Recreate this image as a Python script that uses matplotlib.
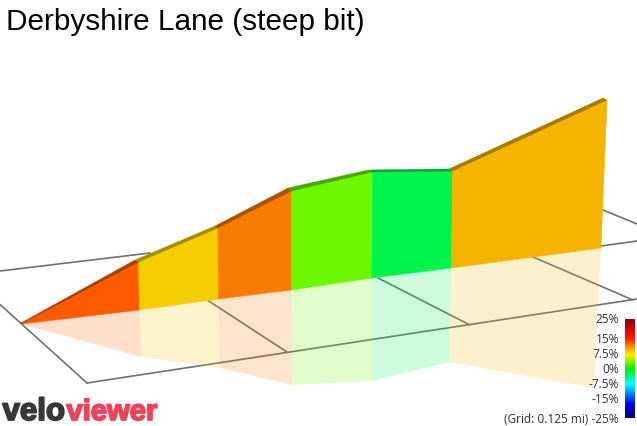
import matplotlib
matplotlib.use("Agg")
import matplotlib.pyplot as plt
import matplotlib.patheffects as pe
from matplotlib.colors import LinearSegmentedColormap, to_rgb
import numpy as np

title = "Derbyshire Lane (steep bit)"
base_x = [21, 139.5, 218.5, 291.5, 372, 451.5, 601]
base_y = [325, 311, 300, 291, 279, 269, 249]
top_x = [21, 138.5, 218, 291.5, 372.5, 452.5, 607]
top_y = [325, 263, 229, 192, 173, 172, 101]
ridge_x = [21, 135, 215, 288, 368, 449, 603]
ridge_y = [324, 261, 227, 189, 171, 170, 99]
mirror_x = [21, 141, 220, 292.5, 371, 449, 594]
mirror_y = [325, 358, 369, 386, 382, 363, 389]
segment_colors = ["#FF5A00", "#F5CC00", "#F87B00", "#6CF700", "#00F44C", "#F5B400"]

grid_x0 = [0, 0, 87, 208, 378, 533, 601, 603]
grid_y0 = [272, 305.5, 384, 301.5, 279, 258, 247, 211]
grid_x1 = [150, 87, 637, 287, 470, 633, 637, 637]
grid_y1 = [254, 384, 300, 353, 326, 301, 242, 225]

scale_labels = ["25%", "15%", "7.5%", "0%", "-7.5%", "-15%", "(Grid: 0.125 mi) -25%"]
scale_y = [319, 339, 354, 369, 384, 399, 419]
scale_stops = [0.0, 0.10, 0.2, 0.28, 0.36, 0.5, 0.66, 0.86, 1.0]
scale_colors = ["#8B0000", "#E00000", "#FF2000", "#FF9000", "#FFF000", "#00F000", "#00FFFF", "#0000F0", "#00007A"]

fig = plt.figure(figsize=(6.37, 4.27), dpi=100)
ax = fig.add_axes([0, 0, 1, 1])
ax.set_xlim(0, 637)
ax.set_ylim(427, 0)
ax.axis("off")

for x0, y0, x1, y1 in zip(grid_x0, grid_y0, grid_x1, grid_y1):
    ax.plot([x0, x1], [y0, y1], color="#707070", lw=1.2, zorder=1, solid_capstyle="round")

for i, c in enumerate(segment_colors):
    # reflection on the floor
    ax.fill([base_x[i], base_x[i + 1], mirror_x[i + 1], mirror_x[i]],
            [base_y[i], base_y[i + 1], mirror_y[i + 1], mirror_y[i]],
            color=c, alpha=0.2, lw=0, zorder=2)
    # wall
    ax.fill([base_x[i], base_x[i + 1], top_x[i + 1], top_x[i]],
            [base_y[i], base_y[i + 1], top_y[i + 1], top_y[i]],
            facecolor=c, edgecolor=c, lw=0.4, zorder=3)
    # ridge on top of the wall
    dark = tuple(v * 0.68 for v in to_rgb(c))
    ax.fill([top_x[i], top_x[i + 1], ridge_x[i + 1], ridge_x[i]],
            [top_y[i], top_y[i + 1], ridge_y[i + 1], ridge_y[i]],
            facecolor=dark, edgecolor=dark, lw=0.3, zorder=4)

cmap = LinearSegmentedColormap.from_list("grade", list(zip(scale_stops, scale_colors)))
ax.imshow(np.linspace(0, 1, 200).reshape(-1, 1), cmap=cmap, aspect="auto",
          extent=(625, 635, 419, 320), zorder=5)
ax.set_xlim(0, 637)
ax.set_ylim(427, 0)

for lab, y in zip(scale_labels, scale_y):
    ax.text(619, y + 0.7, lab, ha="right", va="center", fontsize=8.6, family="Open Sans",
            color="#303030", zorder=6)

ax.text(6.5, 29.5, title, fontsize=21.4, family="Liberation Sans", color="black", va="baseline", zorder=6)
ax.text(2.5, 421, "velo", fontsize=22.5, family="Liberation Sans", weight="bold", color="#3A3636",
        va="baseline", zorder=6, path_effects=[pe.withStroke(linewidth=1.3, foreground="#3A3636")])
ax.text(66.5, 421, "viewer", fontsize=21, family="Liberation Sans", weight="bold", color="#F0415A",
        va="baseline", zorder=6, path_effects=[pe.withStroke(linewidth=1.3, foreground="#F0415A")])

fig.savefig("out.png", dpi=100)
